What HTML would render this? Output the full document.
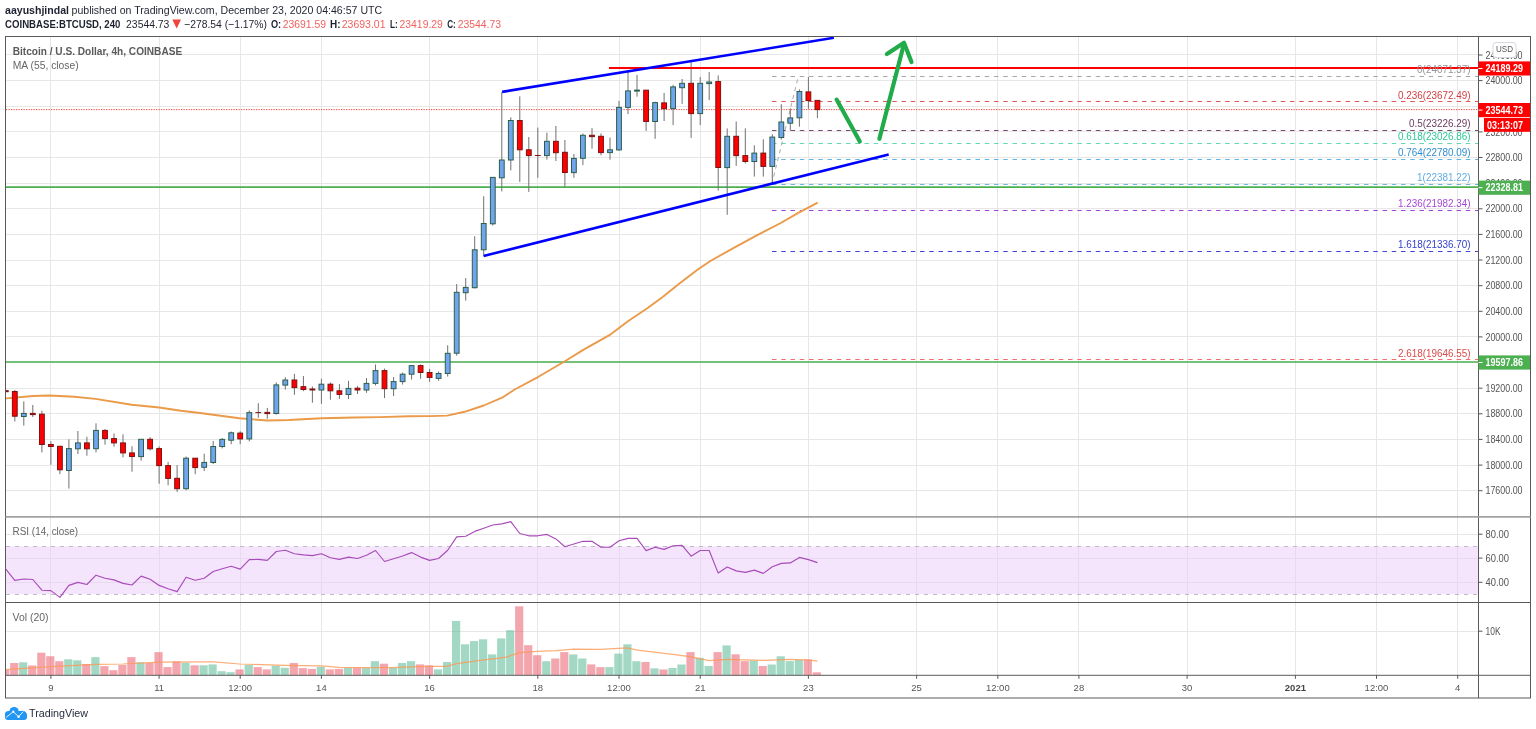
<!DOCTYPE html>
<html lang="en"><head><meta charset="utf-8"><title>BTCUSD chart</title>
<style>html,body{margin:0;padding:0;background:#fff;}body{width:1536px;height:729px;overflow:hidden;font-family:"Liberation Sans", sans-serif;}svg{display:block;}text{font-family:"Liberation Sans", sans-serif;}</style></head><body>
<svg width="1536" height="729" viewBox="0 0 1536 729">
<rect x="0" y="0" width="1536" height="729" fill="#ffffff"/>
<defs><clipPath id="cm"><rect x="6" y="37" width="1472.5" height="479.5"/></clipPath><clipPath id="cr"><rect x="6" y="517.5" width="1472.5" height="84.5"/></clipPath><clipPath id="cv"><rect x="6" y="603" width="1472.5" height="72.3"/></clipPath></defs>
<g stroke="#e7e7e7" stroke-width="1" shape-rendering="auto">
<line x1="50.5" y1="37" x2="50.5" y2="675.3"/>
<line x1="159.5" y1="37" x2="159.5" y2="675.3"/>
<line x1="240.5" y1="37" x2="240.5" y2="675.3"/>
<line x1="321.5" y1="37" x2="321.5" y2="675.3"/>
<line x1="429.5" y1="37" x2="429.5" y2="675.3"/>
<line x1="537.5" y1="37" x2="537.5" y2="675.3"/>
<line x1="619.5" y1="37" x2="619.5" y2="675.3"/>
<line x1="700.5" y1="37" x2="700.5" y2="675.3"/>
<line x1="808.5" y1="37" x2="808.5" y2="675.3"/>
<line x1="916.5" y1="37" x2="916.5" y2="675.3"/>
<line x1="997.5" y1="37" x2="997.5" y2="675.3"/>
<line x1="1078.5" y1="37" x2="1078.5" y2="675.3"/>
<line x1="1187.5" y1="37" x2="1187.5" y2="675.3"/>
<line x1="1295.5" y1="37" x2="1295.5" y2="675.3"/>
<line x1="1376.5" y1="37" x2="1376.5" y2="675.3"/>
<line x1="1457.5" y1="37" x2="1457.5" y2="675.3"/>
<line x1="6" y1="54.5" x2="1478.5" y2="54.5"/>
<line x1="6" y1="80.5" x2="1478.5" y2="80.5"/>
<line x1="6" y1="106.5" x2="1478.5" y2="106.5"/>
<line x1="6" y1="131.5" x2="1478.5" y2="131.5"/>
<line x1="6" y1="157.5" x2="1478.5" y2="157.5"/>
<line x1="6" y1="183.5" x2="1478.5" y2="183.5"/>
<line x1="6" y1="208.5" x2="1478.5" y2="208.5"/>
<line x1="6" y1="234.5" x2="1478.5" y2="234.5"/>
<line x1="6" y1="260.5" x2="1478.5" y2="260.5"/>
<line x1="6" y1="285.5" x2="1478.5" y2="285.5"/>
<line x1="6" y1="311.5" x2="1478.5" y2="311.5"/>
<line x1="6" y1="336.5" x2="1478.5" y2="336.5"/>
<line x1="6" y1="362.5" x2="1478.5" y2="362.5"/>
<line x1="6" y1="388.5" x2="1478.5" y2="388.5"/>
<line x1="6" y1="413.5" x2="1478.5" y2="413.5"/>
<line x1="6" y1="439.5" x2="1478.5" y2="439.5"/>
<line x1="6" y1="465.5" x2="1478.5" y2="465.5"/>
<line x1="6" y1="490.5" x2="1478.5" y2="490.5"/>
<line x1="6" y1="534.5" x2="1478.5" y2="534.5"/>
<line x1="6" y1="558.5" x2="1478.5" y2="558.5"/>
<line x1="6" y1="582.5" x2="1478.5" y2="582.5"/>
<line x1="6" y1="631.5" x2="1478.5" y2="631.5"/>
</g>
<rect x="6" y="546.4" width="1472.5" height="47.7" fill="#e9ccfb" fill-opacity="0.5"/>
<g stroke="#c0bac7" stroke-width="1" stroke-dasharray="4,5"><line x1="6" y1="546.5" x2="1478.5" y2="546.5"/><line x1="6" y1="594.5" x2="1478.5" y2="594.5"/></g>
<g clip-path="url(#cv)">
<rect x="1.1" y="669.8" width="8.2" height="5.5" fill="#e94d5d" fill-opacity="0.5"/>
<rect x="10.1" y="663.0" width="8.2" height="12.3" fill="#e94d5d" fill-opacity="0.5"/>
<rect x="19.1" y="662.3" width="8.2" height="13.0" fill="#47b389" fill-opacity="0.5"/>
<rect x="28.1" y="665.5" width="8.2" height="9.8" fill="#e94d5d" fill-opacity="0.5"/>
<rect x="37.2" y="652.7" width="8.2" height="22.6" fill="#e94d5d" fill-opacity="0.5"/>
<rect x="46.2" y="656.2" width="8.2" height="19.1" fill="#e94d5d" fill-opacity="0.5"/>
<rect x="55.2" y="661.2" width="8.2" height="14.1" fill="#e94d5d" fill-opacity="0.5"/>
<rect x="64.2" y="659.3" width="8.2" height="16.0" fill="#47b389" fill-opacity="0.5"/>
<rect x="73.2" y="660.3" width="8.2" height="15.0" fill="#47b389" fill-opacity="0.5"/>
<rect x="82.2" y="664.0" width="8.2" height="11.3" fill="#e94d5d" fill-opacity="0.5"/>
<rect x="91.3" y="657.1" width="8.2" height="18.2" fill="#47b389" fill-opacity="0.5"/>
<rect x="100.3" y="666.1" width="8.2" height="9.2" fill="#e94d5d" fill-opacity="0.5"/>
<rect x="109.3" y="670.2" width="8.2" height="5.1" fill="#e94d5d" fill-opacity="0.5"/>
<rect x="118.3" y="665.0" width="8.2" height="10.3" fill="#e94d5d" fill-opacity="0.5"/>
<rect x="127.3" y="657.1" width="8.2" height="18.2" fill="#e94d5d" fill-opacity="0.5"/>
<rect x="136.4" y="662.3" width="8.2" height="13.0" fill="#47b389" fill-opacity="0.5"/>
<rect x="145.4" y="663.0" width="8.2" height="12.3" fill="#e94d5d" fill-opacity="0.5"/>
<rect x="154.4" y="652.1" width="8.2" height="23.2" fill="#e94d5d" fill-opacity="0.5"/>
<rect x="163.4" y="667.1" width="8.2" height="8.2" fill="#e94d5d" fill-opacity="0.5"/>
<rect x="172.4" y="661.4" width="8.2" height="13.9" fill="#e94d5d" fill-opacity="0.5"/>
<rect x="181.4" y="662.7" width="8.2" height="12.6" fill="#47b389" fill-opacity="0.5"/>
<rect x="190.5" y="665.3" width="8.2" height="10.0" fill="#e94d5d" fill-opacity="0.5"/>
<rect x="199.5" y="665.3" width="8.2" height="10.0" fill="#47b389" fill-opacity="0.5"/>
<rect x="208.5" y="664.4" width="8.2" height="10.9" fill="#47b389" fill-opacity="0.5"/>
<rect x="217.5" y="671.2" width="8.2" height="4.1" fill="#47b389" fill-opacity="0.5"/>
<rect x="226.5" y="672.2" width="8.2" height="3.1" fill="#47b389" fill-opacity="0.5"/>
<rect x="235.5" y="669.4" width="8.2" height="5.9" fill="#e94d5d" fill-opacity="0.5"/>
<rect x="244.6" y="665.0" width="8.2" height="10.3" fill="#47b389" fill-opacity="0.5"/>
<rect x="253.6" y="667.1" width="8.2" height="8.2" fill="#e94d5d" fill-opacity="0.5"/>
<rect x="262.6" y="669.4" width="8.2" height="5.9" fill="#e94d5d" fill-opacity="0.5"/>
<rect x="271.6" y="665.7" width="8.2" height="9.6" fill="#47b389" fill-opacity="0.5"/>
<rect x="280.6" y="667.8" width="8.2" height="7.5" fill="#47b389" fill-opacity="0.5"/>
<rect x="289.7" y="663.0" width="8.2" height="12.3" fill="#e94d5d" fill-opacity="0.5"/>
<rect x="298.7" y="668.1" width="8.2" height="7.2" fill="#e94d5d" fill-opacity="0.5"/>
<rect x="307.7" y="668.9" width="8.2" height="6.4" fill="#e94d5d" fill-opacity="0.5"/>
<rect x="316.7" y="666.8" width="8.2" height="8.5" fill="#47b389" fill-opacity="0.5"/>
<rect x="325.7" y="669.4" width="8.2" height="5.9" fill="#e94d5d" fill-opacity="0.5"/>
<rect x="334.7" y="668.9" width="8.2" height="6.4" fill="#e94d5d" fill-opacity="0.5"/>
<rect x="343.8" y="667.8" width="8.2" height="7.5" fill="#47b389" fill-opacity="0.5"/>
<rect x="352.8" y="667.8" width="8.2" height="7.5" fill="#e94d5d" fill-opacity="0.5"/>
<rect x="361.8" y="667.8" width="8.2" height="7.5" fill="#47b389" fill-opacity="0.5"/>
<rect x="370.8" y="661.2" width="8.2" height="14.1" fill="#47b389" fill-opacity="0.5"/>
<rect x="379.8" y="663.7" width="8.2" height="11.6" fill="#e94d5d" fill-opacity="0.5"/>
<rect x="388.9" y="667.8" width="8.2" height="7.5" fill="#47b389" fill-opacity="0.5"/>
<rect x="397.9" y="663.0" width="8.2" height="12.3" fill="#47b389" fill-opacity="0.5"/>
<rect x="406.9" y="661.2" width="8.2" height="14.1" fill="#47b389" fill-opacity="0.5"/>
<rect x="415.9" y="664.4" width="8.2" height="10.9" fill="#e94d5d" fill-opacity="0.5"/>
<rect x="424.9" y="665.3" width="8.2" height="10.0" fill="#e94d5d" fill-opacity="0.5"/>
<rect x="433.9" y="669.4" width="8.2" height="5.9" fill="#47b389" fill-opacity="0.5"/>
<rect x="443.0" y="662.0" width="8.2" height="13.3" fill="#47b389" fill-opacity="0.5"/>
<rect x="452.0" y="620.9" width="8.2" height="54.4" fill="#47b389" fill-opacity="0.5"/>
<rect x="461.0" y="644.3" width="8.2" height="31.0" fill="#47b389" fill-opacity="0.5"/>
<rect x="470.0" y="641.1" width="8.2" height="34.2" fill="#47b389" fill-opacity="0.5"/>
<rect x="479.0" y="639.3" width="8.2" height="36.0" fill="#47b389" fill-opacity="0.5"/>
<rect x="488.1" y="654.4" width="8.2" height="20.9" fill="#47b389" fill-opacity="0.5"/>
<rect x="497.1" y="638.4" width="8.2" height="36.9" fill="#47b389" fill-opacity="0.5"/>
<rect x="506.1" y="630.2" width="8.2" height="45.1" fill="#47b389" fill-opacity="0.5"/>
<rect x="515.1" y="606.3" width="8.2" height="69.0" fill="#e94d5d" fill-opacity="0.5"/>
<rect x="524.1" y="645.2" width="8.2" height="30.1" fill="#e94d5d" fill-opacity="0.5"/>
<rect x="533.1" y="655.2" width="8.2" height="20.1" fill="#e94d5d" fill-opacity="0.5"/>
<rect x="542.2" y="661.2" width="8.2" height="14.1" fill="#47b389" fill-opacity="0.5"/>
<rect x="551.2" y="658.5" width="8.2" height="16.8" fill="#e94d5d" fill-opacity="0.5"/>
<rect x="560.2" y="652.1" width="8.2" height="23.2" fill="#e94d5d" fill-opacity="0.5"/>
<rect x="569.2" y="654.4" width="8.2" height="20.9" fill="#47b389" fill-opacity="0.5"/>
<rect x="578.2" y="658.5" width="8.2" height="16.8" fill="#47b389" fill-opacity="0.5"/>
<rect x="587.2" y="664.4" width="8.2" height="10.9" fill="#e94d5d" fill-opacity="0.5"/>
<rect x="596.3" y="667.1" width="8.2" height="8.2" fill="#e94d5d" fill-opacity="0.5"/>
<rect x="605.3" y="667.1" width="8.2" height="8.2" fill="#47b389" fill-opacity="0.5"/>
<rect x="614.3" y="653.6" width="8.2" height="21.7" fill="#47b389" fill-opacity="0.5"/>
<rect x="623.3" y="644.3" width="8.2" height="31.0" fill="#47b389" fill-opacity="0.5"/>
<rect x="632.3" y="661.2" width="8.2" height="14.1" fill="#47b389" fill-opacity="0.5"/>
<rect x="641.4" y="662.0" width="8.2" height="13.3" fill="#e94d5d" fill-opacity="0.5"/>
<rect x="650.4" y="668.3" width="8.2" height="7.0" fill="#47b389" fill-opacity="0.5"/>
<rect x="659.4" y="669.5" width="8.2" height="5.8" fill="#e94d5d" fill-opacity="0.5"/>
<rect x="668.4" y="668.0" width="8.2" height="7.3" fill="#47b389" fill-opacity="0.5"/>
<rect x="677.4" y="664.5" width="8.2" height="10.8" fill="#47b389" fill-opacity="0.5"/>
<rect x="686.4" y="652.1" width="8.2" height="23.2" fill="#e94d5d" fill-opacity="0.5"/>
<rect x="695.5" y="657.8" width="8.2" height="17.5" fill="#47b389" fill-opacity="0.5"/>
<rect x="704.5" y="666.0" width="8.2" height="9.3" fill="#47b389" fill-opacity="0.5"/>
<rect x="713.5" y="652.1" width="8.2" height="23.2" fill="#e94d5d" fill-opacity="0.5"/>
<rect x="722.5" y="645.4" width="8.2" height="29.9" fill="#47b389" fill-opacity="0.5"/>
<rect x="731.5" y="654.3" width="8.2" height="21.0" fill="#e94d5d" fill-opacity="0.5"/>
<rect x="740.6" y="661.1" width="8.2" height="14.2" fill="#e94d5d" fill-opacity="0.5"/>
<rect x="749.6" y="660.5" width="8.2" height="14.8" fill="#47b389" fill-opacity="0.5"/>
<rect x="758.6" y="666.0" width="8.2" height="9.3" fill="#e94d5d" fill-opacity="0.5"/>
<rect x="767.6" y="664.5" width="8.2" height="10.8" fill="#47b389" fill-opacity="0.5"/>
<rect x="776.6" y="656.3" width="8.2" height="19.0" fill="#47b389" fill-opacity="0.5"/>
<rect x="785.6" y="661.1" width="8.2" height="14.2" fill="#47b389" fill-opacity="0.5"/>
<rect x="794.7" y="659.7" width="8.2" height="15.6" fill="#47b389" fill-opacity="0.5"/>
<rect x="803.7" y="659.3" width="8.2" height="16.0" fill="#e94d5d" fill-opacity="0.5"/>
<rect x="812.7" y="672.3" width="8.2" height="3.0" fill="#e94d5d" fill-opacity="0.5"/>
<polyline fill="none" stroke="#fb9a55" stroke-width="1.2" stroke-opacity="0.8" points="5.7,669.7 50.6,666.7 95.7,664.3 123.0,664.0 159.3,662.2 200.0,661.8 213.7,661.8 239.6,664.0 284.8,665.4 321.4,665.9 339.5,667.3 364.0,667.7 391.4,667.7 410.0,666.9 429.7,666.3 446.5,666.3 456.7,663.6 482.0,660.2 505.3,657.4 519.8,652.6 536.7,651.3 555.9,650.6 573.9,649.2 600.0,649.4 627.0,647.9 637.4,650.2 674.9,654.7 691.2,656.9 709.2,660.6 727.3,659.4 763.2,660.3 790.3,659.4 808.4,660.2 817.4,661.1"/>
</g>
<g clip-path="url(#cr)"><polyline fill="none" stroke="#a94bb8" stroke-width="1.15" stroke-linejoin="round" points="5.8,569.0 14.8,580.4 23.8,579.0 32.8,579.5 41.9,590.2 50.9,590.6 59.9,597.4 68.9,585.4 77.9,582.4 86.9,584.5 96.0,575.2 105.0,578.3 114.0,579.9 123.0,583.4 132.0,585.0 141.1,576.1 150.1,579.3 159.1,585.4 168.1,588.8 177.1,591.6 186.1,577.2 195.2,580.2 204.2,578.2 213.2,571.5 222.2,568.7 231.2,566.3 240.2,569.1 249.3,559.6 258.3,559.4 267.3,560.4 276.3,551.5 285.3,550.3 294.4,553.7 303.4,554.9 312.4,555.6 321.4,553.7 330.4,557.7 339.4,559.4 348.5,557.1 357.5,558.5 366.5,555.3 375.5,550.5 384.5,561.5 393.6,558.8 402.6,556.0 411.6,552.6 420.6,557.1 429.6,560.4 438.6,558.5 447.7,550.3 456.7,536.9 465.7,536.2 474.7,531.4 483.7,528.3 492.8,525.0 501.8,523.9 510.8,521.6 519.8,533.5 528.8,535.8 537.8,535.8 546.9,534.4 555.9,538.9 564.9,546.7 573.9,544.0 582.9,541.3 592.0,541.3 601.0,547.2 610.0,547.2 619.0,540.8 628.0,538.4 637.0,538.4 646.1,550.6 655.1,547.2 664.1,549.4 673.1,545.7 682.1,545.4 691.1,556.2 700.2,550.5 709.2,550.5 718.2,573.1 727.2,567.0 736.2,570.9 745.3,572.4 754.3,570.1 763.3,573.4 772.3,566.7 781.3,563.4 790.3,562.9 799.4,557.4 808.4,559.6 817.4,562.6"/></g>
<g clip-path="url(#cm)">
<line x1="6" y1="109.6" x2="1478.5" y2="109.6" stroke="#f44336" stroke-width="1" stroke-dasharray="1.25,1.25"/>
<line x1="6" y1="187.1" x2="1478.5" y2="187.1" stroke="#4caf50" stroke-width="1.6"/>
<line x1="6" y1="362" x2="1478.5" y2="362" stroke="#4caf50" stroke-width="1.6"/>
<line x1="772" y1="76.5" x2="1478.5" y2="76.5" stroke="#a6a6a6" stroke-width="1" stroke-dasharray="4.5,4.75"/>
<line x1="772" y1="101.5" x2="1478.5" y2="101.5" stroke="#e0595b" stroke-width="1" stroke-dasharray="4.5,4.75"/>
<line x1="772" y1="130.5" x2="1478.5" y2="130.5" stroke="#7a4a72" stroke-width="1" stroke-dasharray="4.5,4.75"/>
<line x1="772" y1="143.5" x2="1478.5" y2="143.5" stroke="#62d8b4" stroke-width="1" stroke-dasharray="4.5,4.75"/>
<line x1="772" y1="159.5" x2="1478.5" y2="159.5" stroke="#5fb4ea" stroke-width="1" stroke-dasharray="4.5,4.75"/>
<line x1="772" y1="184.5" x2="1478.5" y2="184.5" stroke="#6bb6e6" stroke-width="1" stroke-dasharray="4.5,4.75"/>
<line x1="772" y1="210.5" x2="1478.5" y2="210.5" stroke="#a044d8" stroke-width="1" stroke-dasharray="4.5,4.75"/>
<line x1="772" y1="251.5" x2="1478.5" y2="251.5" stroke="#3a46d8" stroke-width="1" stroke-dasharray="4.5,4.75"/>
<line x1="772" y1="359.5" x2="1478.5" y2="359.5" stroke="#f26d6d" stroke-width="1" stroke-dasharray="4.5,4.75"/>
<line x1="771.8" y1="184.3" x2="798.4" y2="76.1" stroke="#a8a8a8" stroke-width="1" stroke-dasharray="4,4"/>
<polyline fill="none" stroke="#ea9a48" stroke-width="1.9" stroke-linejoin="round" points="5.5,398.5 6.6,398.4 32.9,396.0 49.4,395.5 74.1,396.8 95.5,398.9 131.7,404.7 159.2,407.5 181.0,410.8 200.0,413.0 239.4,418.3 267.4,420.5 288.8,420.0 321.7,418.3 354.6,417.5 380.0,417.1 408.8,416.3 429.9,416.1 447.2,415.6 464.5,411.8 483.7,405.5 502.1,397.7 514.7,389.5 538.4,376.8 563.6,362.0 584.1,349.4 609.4,335.2 628.3,321.0 647.3,308.3 663.0,296.7 678.8,284.0 697.8,269.5 710.4,261.0 735.6,246.8 757.7,234.8 779.8,223.5 798.8,212.7 817.7,202.6"/>
<line x1="5.8" y1="390.7" x2="5.8" y2="391.7" stroke="#707070" stroke-width="1"/>
<rect x="3.4" y="390.7" width="4.8" height="1.0" fill="#ff0000" stroke="#7d1010" stroke-width="1"/>
<line x1="14.8" y1="389.9" x2="14.8" y2="421.5" stroke="#707070" stroke-width="1"/>
<rect x="12.4" y="391.5" width="4.8" height="24.7" fill="#ff0000" stroke="#7d1010" stroke-width="1"/>
<line x1="23.8" y1="401.4" x2="23.8" y2="425.6" stroke="#707070" stroke-width="1"/>
<rect x="21.4" y="413.4" width="4.8" height="3.1" fill="#70a4ee" stroke="#2c5f4a" stroke-width="1"/>
<line x1="32.8" y1="405.0" x2="32.8" y2="417.0" stroke="#707070" stroke-width="1"/>
<rect x="30.4" y="413.4" width="4.8" height="1.2" fill="#ff0000" stroke="#7d1010" stroke-width="1"/>
<line x1="41.9" y1="410.8" x2="41.9" y2="452.4" stroke="#707070" stroke-width="1"/>
<rect x="39.5" y="414.2" width="4.8" height="30.3" fill="#ff0000" stroke="#7d1010" stroke-width="1"/>
<line x1="50.9" y1="441.2" x2="50.9" y2="464.8" stroke="#707070" stroke-width="1"/>
<rect x="48.5" y="444.5" width="4.8" height="2.0" fill="#ff0000" stroke="#7d1010" stroke-width="1"/>
<line x1="59.9" y1="445.8" x2="59.9" y2="474.2" stroke="#707070" stroke-width="1"/>
<rect x="57.5" y="446.3" width="4.8" height="23.5" fill="#ff0000" stroke="#7d1010" stroke-width="1"/>
<line x1="68.9" y1="439.3" x2="68.9" y2="488.6" stroke="#707070" stroke-width="1"/>
<rect x="66.5" y="448.6" width="4.8" height="21.9" fill="#70a4ee" stroke="#2c5f4a" stroke-width="1"/>
<line x1="77.9" y1="431.0" x2="77.9" y2="454.1" stroke="#707070" stroke-width="1"/>
<rect x="75.5" y="442.9" width="4.8" height="5.9" fill="#70a4ee" stroke="#2c5f4a" stroke-width="1"/>
<line x1="86.9" y1="436.8" x2="86.9" y2="455.7" stroke="#707070" stroke-width="1"/>
<rect x="84.5" y="442.9" width="4.8" height="5.9" fill="#ff0000" stroke="#7d1010" stroke-width="1"/>
<line x1="96.0" y1="423.3" x2="96.0" y2="452.4" stroke="#707070" stroke-width="1"/>
<rect x="93.6" y="430.4" width="4.8" height="18.3" fill="#70a4ee" stroke="#2c5f4a" stroke-width="1"/>
<line x1="105.0" y1="429.1" x2="105.0" y2="444.7" stroke="#707070" stroke-width="1"/>
<rect x="102.6" y="430.4" width="4.8" height="8.2" fill="#ff0000" stroke="#7d1010" stroke-width="1"/>
<line x1="114.0" y1="433.5" x2="114.0" y2="446.7" stroke="#707070" stroke-width="1"/>
<rect x="111.6" y="438.6" width="4.8" height="4.3" fill="#ff0000" stroke="#7d1010" stroke-width="1"/>
<line x1="123.0" y1="434.3" x2="123.0" y2="457.4" stroke="#707070" stroke-width="1"/>
<rect x="120.6" y="442.9" width="4.8" height="10.0" fill="#ff0000" stroke="#7d1010" stroke-width="1"/>
<line x1="132.0" y1="446.2" x2="132.0" y2="471.7" stroke="#707070" stroke-width="1"/>
<rect x="129.6" y="452.9" width="4.8" height="3.6" fill="#ff0000" stroke="#7d1010" stroke-width="1"/>
<line x1="141.1" y1="439.3" x2="141.1" y2="460.7" stroke="#707070" stroke-width="1"/>
<rect x="138.7" y="439.3" width="4.8" height="17.3" fill="#70a4ee" stroke="#2c5f4a" stroke-width="1"/>
<line x1="150.1" y1="437.1" x2="150.1" y2="450.5" stroke="#707070" stroke-width="1"/>
<rect x="147.7" y="439.3" width="4.8" height="9.5" fill="#ff0000" stroke="#7d1010" stroke-width="1"/>
<line x1="159.1" y1="446.3" x2="159.1" y2="483.7" stroke="#707070" stroke-width="1"/>
<rect x="156.7" y="448.6" width="4.8" height="17.0" fill="#ff0000" stroke="#7d1010" stroke-width="1"/>
<line x1="168.1" y1="462.0" x2="168.1" y2="485.3" stroke="#707070" stroke-width="1"/>
<rect x="165.7" y="465.6" width="4.8" height="12.8" fill="#ff0000" stroke="#7d1010" stroke-width="1"/>
<line x1="177.1" y1="465.1" x2="177.1" y2="491.9" stroke="#707070" stroke-width="1"/>
<rect x="174.7" y="478.3" width="4.8" height="10.4" fill="#ff0000" stroke="#7d1010" stroke-width="1"/>
<line x1="186.1" y1="456.5" x2="186.1" y2="490.3" stroke="#707070" stroke-width="1"/>
<rect x="183.7" y="458.2" width="4.8" height="30.5" fill="#70a4ee" stroke="#2c5f4a" stroke-width="1"/>
<line x1="195.2" y1="458.0" x2="195.2" y2="474.2" stroke="#707070" stroke-width="1"/>
<rect x="192.8" y="458.2" width="4.8" height="9.4" fill="#ff0000" stroke="#7d1010" stroke-width="1"/>
<line x1="204.2" y1="453.7" x2="204.2" y2="471.0" stroke="#707070" stroke-width="1"/>
<rect x="201.8" y="462.4" width="4.8" height="4.9" fill="#70a4ee" stroke="#2c5f4a" stroke-width="1"/>
<line x1="213.2" y1="441.0" x2="213.2" y2="464.1" stroke="#707070" stroke-width="1"/>
<rect x="210.8" y="446.5" width="4.8" height="16.0" fill="#70a4ee" stroke="#2c5f4a" stroke-width="1"/>
<line x1="222.2" y1="438.1" x2="222.2" y2="448.4" stroke="#707070" stroke-width="1"/>
<rect x="219.8" y="439.4" width="4.8" height="7.1" fill="#70a4ee" stroke="#2c5f4a" stroke-width="1"/>
<line x1="231.2" y1="431.5" x2="231.2" y2="444.2" stroke="#707070" stroke-width="1"/>
<rect x="228.8" y="432.8" width="4.8" height="7.4" fill="#70a4ee" stroke="#2c5f4a" stroke-width="1"/>
<line x1="240.2" y1="431.2" x2="240.2" y2="444.2" stroke="#707070" stroke-width="1"/>
<rect x="237.8" y="433.1" width="4.8" height="5.8" fill="#ff0000" stroke="#7d1010" stroke-width="1"/>
<line x1="249.3" y1="410.4" x2="249.3" y2="441.4" stroke="#707070" stroke-width="1"/>
<rect x="246.9" y="412.6" width="4.8" height="26.3" fill="#70a4ee" stroke="#2c5f4a" stroke-width="1"/>
<line x1="258.3" y1="403.2" x2="258.3" y2="417.8" stroke="#707070" stroke-width="1"/>
<line x1="255.4" y1="412.6" x2="261.2" y2="412.6" stroke="#7d1010" stroke-width="1"/>
<line x1="267.3" y1="407.9" x2="267.3" y2="418.8" stroke="#707070" stroke-width="1"/>
<rect x="264.9" y="412.4" width="4.8" height="1.2" fill="#ff0000" stroke="#7d1010" stroke-width="1"/>
<line x1="276.3" y1="382.4" x2="276.3" y2="414.5" stroke="#707070" stroke-width="1"/>
<rect x="273.9" y="384.9" width="4.8" height="28.6" fill="#70a4ee" stroke="#2c5f4a" stroke-width="1"/>
<line x1="285.3" y1="377.2" x2="285.3" y2="389.5" stroke="#707070" stroke-width="1"/>
<rect x="282.9" y="380.0" width="4.8" height="5.1" fill="#70a4ee" stroke="#2c5f4a" stroke-width="1"/>
<line x1="294.4" y1="373.9" x2="294.4" y2="394.8" stroke="#707070" stroke-width="1"/>
<rect x="292.0" y="380.0" width="4.8" height="7.6" fill="#ff0000" stroke="#7d1010" stroke-width="1"/>
<line x1="303.4" y1="376.0" x2="303.4" y2="391.2" stroke="#707070" stroke-width="1"/>
<rect x="301.0" y="386.7" width="4.8" height="2.8" fill="#ff0000" stroke="#7d1010" stroke-width="1"/>
<line x1="312.4" y1="386.5" x2="312.4" y2="402.7" stroke="#707070" stroke-width="1"/>
<rect x="310.0" y="389.0" width="4.8" height="1.0" fill="#ff0000" stroke="#7d1010" stroke-width="1"/>
<line x1="321.4" y1="378.8" x2="321.4" y2="403.8" stroke="#707070" stroke-width="1"/>
<rect x="319.0" y="384.2" width="4.8" height="5.8" fill="#70a4ee" stroke="#2c5f4a" stroke-width="1"/>
<line x1="330.4" y1="382.4" x2="330.4" y2="399.7" stroke="#707070" stroke-width="1"/>
<rect x="328.0" y="384.2" width="4.8" height="6.6" fill="#ff0000" stroke="#7d1010" stroke-width="1"/>
<line x1="339.4" y1="384.1" x2="339.4" y2="398.9" stroke="#707070" stroke-width="1"/>
<rect x="337.0" y="390.8" width="4.8" height="3.6" fill="#ff0000" stroke="#7d1010" stroke-width="1"/>
<line x1="348.5" y1="380.9" x2="348.5" y2="398.9" stroke="#707070" stroke-width="1"/>
<rect x="346.1" y="388.4" width="4.8" height="6.1" fill="#70a4ee" stroke="#2c5f4a" stroke-width="1"/>
<line x1="357.5" y1="386.2" x2="357.5" y2="394.0" stroke="#707070" stroke-width="1"/>
<rect x="355.1" y="388.2" width="4.8" height="1.8" fill="#ff0000" stroke="#7d1010" stroke-width="1"/>
<line x1="366.5" y1="378.0" x2="366.5" y2="392.8" stroke="#707070" stroke-width="1"/>
<rect x="364.1" y="383.4" width="4.8" height="6.6" fill="#70a4ee" stroke="#2c5f4a" stroke-width="1"/>
<line x1="375.5" y1="364.5" x2="375.5" y2="385.4" stroke="#707070" stroke-width="1"/>
<rect x="373.1" y="370.6" width="4.8" height="12.8" fill="#70a4ee" stroke="#2c5f4a" stroke-width="1"/>
<line x1="384.5" y1="368.6" x2="384.5" y2="398.1" stroke="#707070" stroke-width="1"/>
<rect x="382.1" y="370.6" width="4.8" height="18.1" fill="#ff0000" stroke="#7d1010" stroke-width="1"/>
<line x1="393.6" y1="377.1" x2="393.6" y2="396.0" stroke="#707070" stroke-width="1"/>
<rect x="391.2" y="381.6" width="4.8" height="7.1" fill="#70a4ee" stroke="#2c5f4a" stroke-width="1"/>
<line x1="402.6" y1="372.5" x2="402.6" y2="384.5" stroke="#707070" stroke-width="1"/>
<rect x="400.2" y="374.2" width="4.8" height="7.4" fill="#70a4ee" stroke="#2c5f4a" stroke-width="1"/>
<line x1="411.6" y1="365.1" x2="411.6" y2="379.6" stroke="#707070" stroke-width="1"/>
<rect x="409.2" y="365.6" width="4.8" height="8.6" fill="#70a4ee" stroke="#2c5f4a" stroke-width="1"/>
<line x1="420.6" y1="364.4" x2="420.6" y2="378.8" stroke="#707070" stroke-width="1"/>
<rect x="418.2" y="365.6" width="4.8" height="6.9" fill="#ff0000" stroke="#7d1010" stroke-width="1"/>
<line x1="429.6" y1="368.9" x2="429.6" y2="381.7" stroke="#707070" stroke-width="1"/>
<rect x="427.2" y="372.5" width="4.8" height="4.9" fill="#ff0000" stroke="#7d1010" stroke-width="1"/>
<line x1="438.6" y1="371.4" x2="438.6" y2="380.7" stroke="#707070" stroke-width="1"/>
<rect x="436.2" y="373.5" width="4.8" height="4.9" fill="#70a4ee" stroke="#2c5f4a" stroke-width="1"/>
<line x1="447.7" y1="345.3" x2="447.7" y2="376.6" stroke="#707070" stroke-width="1"/>
<rect x="445.3" y="353.3" width="4.8" height="20.2" fill="#70a4ee" stroke="#2c5f4a" stroke-width="1"/>
<line x1="456.7" y1="284.1" x2="456.7" y2="355.7" stroke="#707070" stroke-width="1"/>
<rect x="454.3" y="292.3" width="4.8" height="60.9" fill="#70a4ee" stroke="#2c5f4a" stroke-width="1"/>
<line x1="465.7" y1="278.1" x2="465.7" y2="300.6" stroke="#707070" stroke-width="1"/>
<rect x="463.3" y="287.4" width="4.8" height="5.3" fill="#70a4ee" stroke="#2c5f4a" stroke-width="1"/>
<line x1="474.7" y1="236.2" x2="474.7" y2="288.5" stroke="#707070" stroke-width="1"/>
<rect x="472.3" y="249.8" width="4.8" height="37.9" fill="#70a4ee" stroke="#2c5f4a" stroke-width="1"/>
<line x1="483.7" y1="196.3" x2="483.7" y2="255.6" stroke="#707070" stroke-width="1"/>
<rect x="481.3" y="223.5" width="4.8" height="26.3" fill="#70a4ee" stroke="#2c5f4a" stroke-width="1"/>
<line x1="492.8" y1="176.9" x2="492.8" y2="225.6" stroke="#707070" stroke-width="1"/>
<rect x="490.4" y="177.4" width="4.8" height="46.4" fill="#70a4ee" stroke="#2c5f4a" stroke-width="1"/>
<line x1="501.8" y1="92.2" x2="501.8" y2="191.4" stroke="#707070" stroke-width="1"/>
<rect x="499.4" y="160.0" width="4.8" height="17.8" fill="#70a4ee" stroke="#2c5f4a" stroke-width="1"/>
<line x1="510.8" y1="117.4" x2="510.8" y2="170.4" stroke="#707070" stroke-width="1"/>
<rect x="508.4" y="120.5" width="4.8" height="39.5" fill="#70a4ee" stroke="#2c5f4a" stroke-width="1"/>
<line x1="519.8" y1="96.3" x2="519.8" y2="181.9" stroke="#707070" stroke-width="1"/>
<rect x="517.4" y="120.5" width="4.8" height="29.3" fill="#ff0000" stroke="#7d1010" stroke-width="1"/>
<line x1="528.8" y1="137.0" x2="528.8" y2="191.9" stroke="#707070" stroke-width="1"/>
<rect x="526.4" y="149.8" width="4.8" height="5.8" fill="#ff0000" stroke="#7d1010" stroke-width="1"/>
<line x1="537.8" y1="127.6" x2="537.8" y2="177.8" stroke="#707070" stroke-width="1"/>
<line x1="534.9" y1="155.5" x2="540.7" y2="155.5" stroke="#7d1010" stroke-width="1"/>
<line x1="546.9" y1="132.6" x2="546.9" y2="159.7" stroke="#707070" stroke-width="1"/>
<rect x="544.5" y="141.3" width="4.8" height="14.3" fill="#70a4ee" stroke="#2c5f4a" stroke-width="1"/>
<line x1="555.9" y1="126.0" x2="555.9" y2="161.0" stroke="#707070" stroke-width="1"/>
<rect x="553.5" y="141.3" width="4.8" height="11.4" fill="#ff0000" stroke="#7d1010" stroke-width="1"/>
<line x1="564.9" y1="140.0" x2="564.9" y2="186.9" stroke="#707070" stroke-width="1"/>
<rect x="562.5" y="152.3" width="4.8" height="20.2" fill="#ff0000" stroke="#7d1010" stroke-width="1"/>
<line x1="573.9" y1="154.0" x2="573.9" y2="177.8" stroke="#707070" stroke-width="1"/>
<rect x="571.5" y="158.4" width="4.8" height="14.2" fill="#70a4ee" stroke="#2c5f4a" stroke-width="1"/>
<line x1="582.9" y1="133.4" x2="582.9" y2="165.1" stroke="#707070" stroke-width="1"/>
<rect x="580.5" y="135.3" width="4.8" height="23.0" fill="#70a4ee" stroke="#2c5f4a" stroke-width="1"/>
<line x1="592.0" y1="128.1" x2="592.0" y2="148.7" stroke="#707070" stroke-width="1"/>
<rect x="589.6" y="135.3" width="4.8" height="1.3" fill="#ff0000" stroke="#7d1010" stroke-width="1"/>
<line x1="601.0" y1="133.4" x2="601.0" y2="155.3" stroke="#707070" stroke-width="1"/>
<rect x="598.6" y="136.3" width="4.8" height="16.3" fill="#ff0000" stroke="#7d1010" stroke-width="1"/>
<line x1="610.0" y1="137.5" x2="610.0" y2="159.7" stroke="#707070" stroke-width="1"/>
<rect x="607.6" y="149.8" width="4.8" height="2.8" fill="#70a4ee" stroke="#2c5f4a" stroke-width="1"/>
<line x1="619.0" y1="100.9" x2="619.0" y2="150.7" stroke="#707070" stroke-width="1"/>
<rect x="616.6" y="107.4" width="4.8" height="42.5" fill="#70a4ee" stroke="#2c5f4a" stroke-width="1"/>
<line x1="628.0" y1="71.6" x2="628.0" y2="114.1" stroke="#707070" stroke-width="1"/>
<rect x="625.6" y="90.9" width="4.8" height="16.5" fill="#70a4ee" stroke="#2c5f4a" stroke-width="1"/>
<line x1="637.0" y1="74.9" x2="637.0" y2="96.7" stroke="#707070" stroke-width="1"/>
<rect x="634.6" y="90.1" width="4.8" height="1.0" fill="#70a4ee" stroke="#2c5f4a" stroke-width="1"/>
<line x1="646.1" y1="89.8" x2="646.1" y2="130.9" stroke="#707070" stroke-width="1"/>
<rect x="643.7" y="90.2" width="4.8" height="31.3" fill="#ff0000" stroke="#7d1010" stroke-width="1"/>
<line x1="655.1" y1="101.7" x2="655.1" y2="138.8" stroke="#707070" stroke-width="1"/>
<rect x="652.7" y="102.6" width="4.8" height="18.9" fill="#70a4ee" stroke="#2c5f4a" stroke-width="1"/>
<line x1="664.1" y1="93.0" x2="664.1" y2="121.0" stroke="#707070" stroke-width="1"/>
<rect x="661.7" y="102.9" width="4.8" height="5.8" fill="#ff0000" stroke="#7d1010" stroke-width="1"/>
<line x1="673.1" y1="84.8" x2="673.1" y2="125.1" stroke="#707070" stroke-width="1"/>
<rect x="670.7" y="86.9" width="4.8" height="21.7" fill="#70a4ee" stroke="#2c5f4a" stroke-width="1"/>
<line x1="682.1" y1="79.0" x2="682.1" y2="103.9" stroke="#707070" stroke-width="1"/>
<rect x="679.7" y="83.3" width="4.8" height="4.4" fill="#70a4ee" stroke="#2c5f4a" stroke-width="1"/>
<line x1="691.1" y1="62.2" x2="691.1" y2="137.9" stroke="#707070" stroke-width="1"/>
<rect x="688.7" y="83.3" width="4.8" height="30.3" fill="#ff0000" stroke="#7d1010" stroke-width="1"/>
<line x1="700.2" y1="77.0" x2="700.2" y2="125.1" stroke="#707070" stroke-width="1"/>
<rect x="697.8" y="83.3" width="4.8" height="30.3" fill="#70a4ee" stroke="#2c5f4a" stroke-width="1"/>
<line x1="709.2" y1="72.1" x2="709.2" y2="100.1" stroke="#707070" stroke-width="1"/>
<rect x="706.8" y="82.0" width="4.8" height="1.6" fill="#70a4ee" stroke="#2c5f4a" stroke-width="1"/>
<line x1="718.2" y1="75.4" x2="718.2" y2="190.6" stroke="#707070" stroke-width="1"/>
<rect x="715.8" y="81.6" width="4.8" height="85.9" fill="#ff0000" stroke="#7d1010" stroke-width="1"/>
<line x1="727.2" y1="128.4" x2="727.2" y2="214.8" stroke="#707070" stroke-width="1"/>
<rect x="724.8" y="136.3" width="4.8" height="31.3" fill="#70a4ee" stroke="#2c5f4a" stroke-width="1"/>
<line x1="736.2" y1="121.5" x2="736.2" y2="165.9" stroke="#707070" stroke-width="1"/>
<rect x="733.8" y="136.3" width="4.8" height="19.3" fill="#ff0000" stroke="#7d1010" stroke-width="1"/>
<line x1="745.3" y1="128.4" x2="745.3" y2="163.5" stroke="#707070" stroke-width="1"/>
<rect x="742.9" y="155.6" width="4.8" height="5.9" fill="#ff0000" stroke="#7d1010" stroke-width="1"/>
<line x1="754.3" y1="145.3" x2="754.3" y2="176.6" stroke="#707070" stroke-width="1"/>
<rect x="751.9" y="153.1" width="4.8" height="8.4" fill="#70a4ee" stroke="#2c5f4a" stroke-width="1"/>
<line x1="763.3" y1="139.3" x2="763.3" y2="176.6" stroke="#707070" stroke-width="1"/>
<rect x="760.9" y="153.1" width="4.8" height="13.3" fill="#ff0000" stroke="#7d1010" stroke-width="1"/>
<line x1="772.3" y1="134.2" x2="772.3" y2="184.0" stroke="#707070" stroke-width="1"/>
<rect x="769.9" y="137.1" width="4.8" height="29.3" fill="#70a4ee" stroke="#2c5f4a" stroke-width="1"/>
<line x1="781.3" y1="104.2" x2="781.3" y2="139.6" stroke="#707070" stroke-width="1"/>
<rect x="778.9" y="122.0" width="4.8" height="15.5" fill="#70a4ee" stroke="#2c5f4a" stroke-width="1"/>
<line x1="790.3" y1="108.3" x2="790.3" y2="130.5" stroke="#707070" stroke-width="1"/>
<rect x="787.9" y="117.9" width="4.8" height="5.3" fill="#70a4ee" stroke="#2c5f4a" stroke-width="1"/>
<line x1="799.4" y1="89.4" x2="799.4" y2="126.7" stroke="#707070" stroke-width="1"/>
<rect x="797.0" y="91.5" width="4.8" height="26.3" fill="#70a4ee" stroke="#2c5f4a" stroke-width="1"/>
<line x1="808.4" y1="77.0" x2="808.4" y2="108.8" stroke="#707070" stroke-width="1"/>
<rect x="806.0" y="91.9" width="4.8" height="8.7" fill="#ff0000" stroke="#7d1010" stroke-width="1"/>
<line x1="817.4" y1="100.1" x2="817.4" y2="118.2" stroke="#707070" stroke-width="1"/>
<rect x="815.0" y="100.4" width="4.8" height="9.2" fill="#ff0000" stroke="#7d1010" stroke-width="1"/>
<line x1="609" y1="68" x2="1478.5" y2="68" stroke="#ff0000" stroke-width="2"/>
<line x1="502.1" y1="91.9" x2="833.9" y2="37.8" stroke="#0000ff" stroke-width="2.6"/>
<line x1="483.6" y1="255.9" x2="888.7" y2="154.4" stroke="#0000ff" stroke-width="2.6"/>
<g fill="none" stroke="#22ab4a" stroke-width="4.2" stroke-linecap="round" stroke-linejoin="round">
<line x1="836.6" y1="99.6" x2="859.8" y2="141.5"/>
<line x1="879.4" y1="138.8" x2="904" y2="43.8"/>
<polyline points="886.9,54.1 904,42.8 911.5,62.1"/>
</g>
</g>
<text x="1417.1" y="73.1" font-size="10" fill="#959595" textLength="53.4" lengthAdjust="spacingAndGlyphs">0(24071.37)</text>
<text x="1397.9" y="98.6" font-size="10" fill="#cf3f45" textLength="72.6" lengthAdjust="spacingAndGlyphs">0.236(23672.49)</text>
<text x="1408.9" y="127.2" font-size="10" fill="#6a3b62" textLength="61.6" lengthAdjust="spacingAndGlyphs">0.5(23226.29)</text>
<text x="1397.9" y="140.0" font-size="10" fill="#2cc796" textLength="72.6" lengthAdjust="spacingAndGlyphs">0.618(23026.86)</text>
<text x="1397.9" y="155.8" font-size="10" fill="#2f8ed0" textLength="72.6" lengthAdjust="spacingAndGlyphs">0.764(22780.09)</text>
<text x="1417.1" y="181.4" font-size="10" fill="#62abe0" textLength="53.4" lengthAdjust="spacingAndGlyphs">1(22381.22)</text>
<text x="1397.9" y="206.9" font-size="10" fill="#a548d8" textLength="72.6" lengthAdjust="spacingAndGlyphs">1.236(21982.34)</text>
<text x="1397.9" y="248.3" font-size="10" fill="#3440c8" textLength="72.6" lengthAdjust="spacingAndGlyphs">1.618(21336.70)</text>
<text x="1397.9" y="356.6" font-size="10" fill="#d94a4a" textLength="72.6" lengthAdjust="spacingAndGlyphs">2.618(19646.55)</text>
<g stroke="#5a5a5a" stroke-width="1" fill="none">
<rect x="5.5" y="36.5" width="1525.0" height="661.5"/>
<line x1="1478.5" y1="36.5" x2="1478.5" y2="698.0"/>
<line x1="5.5" y1="602.5" x2="1530.5" y2="602.5"/>
<line x1="5.5" y1="675.3" x2="1530.5" y2="675.3"/>
</g>
<line x1="5.5" y1="516.9" x2="1530.5" y2="516.9" stroke="#a2a2a2" stroke-width="1.8"/>
<g stroke="#555555" stroke-width="1">
<line x1="1478.5" y1="55.0" x2="1482.5" y2="55.0"/>
<line x1="1478.5" y1="80.6" x2="1482.5" y2="80.6"/>
<line x1="1478.5" y1="106.3" x2="1482.5" y2="106.3"/>
<line x1="1478.5" y1="131.9" x2="1482.5" y2="131.9"/>
<line x1="1478.5" y1="157.5" x2="1482.5" y2="157.5"/>
<line x1="1478.5" y1="183.2" x2="1482.5" y2="183.2"/>
<line x1="1478.5" y1="208.8" x2="1482.5" y2="208.8"/>
<line x1="1478.5" y1="234.4" x2="1482.5" y2="234.4"/>
<line x1="1478.5" y1="260.0" x2="1482.5" y2="260.0"/>
<line x1="1478.5" y1="285.7" x2="1482.5" y2="285.7"/>
<line x1="1478.5" y1="311.3" x2="1482.5" y2="311.3"/>
<line x1="1478.5" y1="336.9" x2="1482.5" y2="336.9"/>
<line x1="1478.5" y1="362.6" x2="1482.5" y2="362.6"/>
<line x1="1478.5" y1="388.2" x2="1482.5" y2="388.2"/>
<line x1="1478.5" y1="413.8" x2="1482.5" y2="413.8"/>
<line x1="1478.5" y1="439.4" x2="1482.5" y2="439.4"/>
<line x1="1478.5" y1="465.1" x2="1482.5" y2="465.1"/>
<line x1="1478.5" y1="490.7" x2="1482.5" y2="490.7"/>
<line x1="1478.5" y1="534.2" x2="1482.5" y2="534.2"/>
<line x1="1478.5" y1="558.1" x2="1482.5" y2="558.1"/>
<line x1="1478.5" y1="582.3" x2="1482.5" y2="582.3"/>
<line x1="1478.5" y1="631.2" x2="1482.5" y2="631.2"/>
<line x1="50.9" y1="675.3" x2="50.9" y2="678.8"/>
<line x1="159.1" y1="675.3" x2="159.1" y2="678.8"/>
<line x1="240.2" y1="675.3" x2="240.2" y2="678.8"/>
<line x1="321.4" y1="675.3" x2="321.4" y2="678.8"/>
<line x1="429.6" y1="675.3" x2="429.6" y2="678.8"/>
<line x1="537.8" y1="675.3" x2="537.8" y2="678.8"/>
<line x1="619.0" y1="675.3" x2="619.0" y2="678.8"/>
<line x1="700.2" y1="675.3" x2="700.2" y2="678.8"/>
<line x1="808.4" y1="675.3" x2="808.4" y2="678.8"/>
<line x1="916.6" y1="675.3" x2="916.6" y2="678.8"/>
<line x1="997.8" y1="675.3" x2="997.8" y2="678.8"/>
<line x1="1078.9" y1="675.3" x2="1078.9" y2="678.8"/>
<line x1="1187.1" y1="675.3" x2="1187.1" y2="678.8"/>
<line x1="1295.4" y1="675.3" x2="1295.4" y2="678.8"/>
<line x1="1376.5" y1="675.3" x2="1376.5" y2="678.8"/>
<line x1="1457.7" y1="675.3" x2="1457.7" y2="678.8"/>
</g>
<g font-size="10" fill="#555555">
<text x="1485.5" y="58.6" textLength="37" lengthAdjust="spacingAndGlyphs">24400.00</text>
<text x="1485.5" y="84.2" textLength="37" lengthAdjust="spacingAndGlyphs">24000.00</text>
<text x="1485.5" y="135.5" textLength="37" lengthAdjust="spacingAndGlyphs">23200.00</text>
<text x="1485.5" y="161.1" textLength="37" lengthAdjust="spacingAndGlyphs">22800.00</text>
<text x="1485.5" y="186.8" textLength="37" lengthAdjust="spacingAndGlyphs">22400.00</text>
<text x="1485.5" y="212.4" textLength="37" lengthAdjust="spacingAndGlyphs">22000.00</text>
<text x="1485.5" y="238.0" textLength="37" lengthAdjust="spacingAndGlyphs">21600.00</text>
<text x="1485.5" y="263.6" textLength="37" lengthAdjust="spacingAndGlyphs">21200.00</text>
<text x="1485.5" y="289.3" textLength="37" lengthAdjust="spacingAndGlyphs">20800.00</text>
<text x="1485.5" y="314.9" textLength="37" lengthAdjust="spacingAndGlyphs">20400.00</text>
<text x="1485.5" y="340.5" textLength="37" lengthAdjust="spacingAndGlyphs">20000.00</text>
<text x="1485.5" y="391.8" textLength="37" lengthAdjust="spacingAndGlyphs">19200.00</text>
<text x="1485.5" y="417.4" textLength="37" lengthAdjust="spacingAndGlyphs">18800.00</text>
<text x="1485.5" y="443.1" textLength="37" lengthAdjust="spacingAndGlyphs">18400.00</text>
<text x="1485.5" y="468.7" textLength="37" lengthAdjust="spacingAndGlyphs">18000.00</text>
<text x="1485.5" y="494.3" textLength="37" lengthAdjust="spacingAndGlyphs">17600.00</text>
<text x="1485.5" y="537.8" textLength="23.5" lengthAdjust="spacingAndGlyphs">80.00</text>
<text x="1485.5" y="561.7" textLength="23.5" lengthAdjust="spacingAndGlyphs">60.00</text>
<text x="1485.5" y="585.9" textLength="23.5" lengthAdjust="spacingAndGlyphs">40.00</text>
<text x="1485.5" y="634.8" textLength="15" lengthAdjust="spacingAndGlyphs">10K</text>
</g>
<g font-size="9.5" fill="#555555" text-anchor="middle">
<text x="50.9" y="691.2">9</text>
<text x="159.1" y="691.2">11</text>
<text x="240.2" y="691.2">12:00</text>
<text x="321.4" y="691.2">14</text>
<text x="429.6" y="691.2">16</text>
<text x="537.8" y="691.2">18</text>
<text x="619.0" y="691.2">12:00</text>
<text x="700.2" y="691.2">21</text>
<text x="808.4" y="691.2">23</text>
<text x="916.6" y="691.2">25</text>
<text x="997.8" y="691.2">12:00</text>
<text x="1078.9" y="691.2">28</text>
<text x="1187.1" y="691.2">30</text>
<text x="1295.4" y="691.2" font-weight="bold" fill="#444">2021</text>
<text x="1376.5" y="691.2">12:00</text>
<text x="1457.7" y="691.2">4</text>
</g>
<rect x="1478.5" y="61.4" width="51.5" height="14.1" fill="#ff0000"/>
<line x1="1478.5" y1="68.5" x2="1482.5" y2="68.5" stroke="#fff" stroke-width="1"/>
<text x="1485.5" y="72.0" font-size="10" font-weight="bold" fill="#fff" textLength="37.5" lengthAdjust="spacingAndGlyphs">24189.29</text>
<rect x="1478.5" y="103.0" width="51.5" height="14.2" fill="#ff0000"/>
<line x1="1478.5" y1="110.1" x2="1482.5" y2="110.1" stroke="#fff" stroke-width="1"/>
<text x="1485.5" y="113.7" font-size="10" font-weight="bold" fill="#fff" textLength="37.5" lengthAdjust="spacingAndGlyphs">23544.73</text>
<rect x="1484.0" y="118.0" width="46.0" height="13.8" fill="#ff0000"/>
<text x="1487.0" y="128.5" font-size="10" font-weight="bold" fill="#fff" textLength="36" lengthAdjust="spacingAndGlyphs">03:13:07</text>
<rect x="1478.5" y="180.6" width="51.5" height="14.2" fill="#4caf50"/>
<line x1="1478.5" y1="187.7" x2="1482.5" y2="187.7" stroke="#fff" stroke-width="1"/>
<text x="1485.5" y="191.3" font-size="10" font-weight="bold" fill="#fff" textLength="37.5" lengthAdjust="spacingAndGlyphs">22328.81</text>
<rect x="1478.5" y="355.4" width="51.5" height="14.2" fill="#4caf50"/>
<line x1="1478.5" y1="362.5" x2="1482.5" y2="362.5" stroke="#fff" stroke-width="1"/>
<text x="1485.5" y="366.1" font-size="10" font-weight="bold" fill="#fff" textLength="37.5" lengthAdjust="spacingAndGlyphs">19597.86</text>
<rect x="1493" y="42.5" width="23" height="15" rx="3" ry="3" fill="#fff" stroke="#d5d9e4" stroke-width="1"/>
<text x="1504.5" y="52.4" font-size="9.5" fill="#555" text-anchor="middle" textLength="17" lengthAdjust="spacingAndGlyphs">USD</text>
<text x="12.7" y="54.5" font-size="11" font-weight="bold" fill="#5a5a5a" textLength="169.5" lengthAdjust="spacingAndGlyphs">Bitcoin / U.S. Dollar, 4h, COINBASE</text>
<text x="12.7" y="69" font-size="11" fill="#666" textLength="66" lengthAdjust="spacingAndGlyphs">MA (55, close)</text>
<text x="12.6" y="534.8" font-size="10.5" fill="#666" textLength="65.5" lengthAdjust="spacingAndGlyphs">RSI (14, close)</text>
<text x="12.6" y="620.6" font-size="10.5" fill="#666" textLength="36" lengthAdjust="spacingAndGlyphs">Vol (20)</text>
<text x="5" y="14" font-size="11.5" fill="#1e2230"><tspan font-weight="bold" textLength="64" lengthAdjust="spacingAndGlyphs">aayushjindal</tspan><tspan dx="2.5" textLength="310.6" lengthAdjust="spacingAndGlyphs">published on TradingView.com, December 23, 2020 04:46:57 UTC</tspan></text>
<text x="5.1" y="28.4" font-size="11.5" fill="#1e2230" font-weight="bold" textLength="115.3" lengthAdjust="spacingAndGlyphs">COINBASE:BTCUSD, 240</text>
<text x="126.1" y="28.4" font-size="11.5" fill="#1e2230" textLength="43.3" lengthAdjust="spacingAndGlyphs">23544.73</text>
<path d="M172.3 19.5 L181 19.5 L176.65 28.6 Z" fill="#f0443e"/>
<text x="184.2" y="28.4" font-size="11.5" fill="#1e2230" textLength="82.8" lengthAdjust="spacingAndGlyphs">−278.54 (−1.17%)</text>
<text x="270.9" y="28.4" font-size="11.5" fill="#1e2230" font-weight="bold" textLength="10.2" lengthAdjust="spacingAndGlyphs">O:</text>
<text x="282.7" y="28.4" font-size="11.5" fill="#f2605e" textLength="43.4" lengthAdjust="spacingAndGlyphs">23691.59</text>
<text x="330.0" y="28.4" font-size="11.5" fill="#1e2230" font-weight="bold" textLength="10.5" lengthAdjust="spacingAndGlyphs">H:</text>
<text x="341.8" y="28.4" font-size="11.5" fill="#f2605e" textLength="43.7" lengthAdjust="spacingAndGlyphs">23693.01</text>
<text x="390.0" y="28.4" font-size="11.5" fill="#1e2230" font-weight="bold" textLength="7.8" lengthAdjust="spacingAndGlyphs">L:</text>
<text x="399.6" y="28.4" font-size="11.5" fill="#f2605e" textLength="43.2" lengthAdjust="spacingAndGlyphs">23419.29</text>
<text x="447.2" y="28.4" font-size="11.5" fill="#1e2230" font-weight="bold" textLength="8.6" lengthAdjust="spacingAndGlyphs">C:</text>
<text x="457.7" y="28.4" font-size="11.5" fill="#f2605e" textLength="43.4" lengthAdjust="spacingAndGlyphs">23544.73</text>
<g fill="#2196f3"><circle cx="8.6" cy="714.8" r="3.7"/><circle cx="14.1" cy="711.5" r="4.6"/><circle cx="22.4" cy="715.3" r="4.6"/><rect x="5" y="713.5" width="22" height="6.4" rx="3" ry="3"/><rect x="9" y="711" width="13" height="8"/></g>
<polyline points="6.2,717.4 13.3,711.7 18.6,716.8 23.2,711.6" fill="none" stroke="#fff" stroke-width="0.9"/>
<circle cx="13.3" cy="711.7" r="1.1" fill="#fff"/><circle cx="18.6" cy="716.8" r="1.2" fill="#fff"/>
<text x="29" y="717.2" font-size="11" fill="#262b3e" textLength="59" lengthAdjust="spacingAndGlyphs">TradingView</text>
</svg></body></html>
